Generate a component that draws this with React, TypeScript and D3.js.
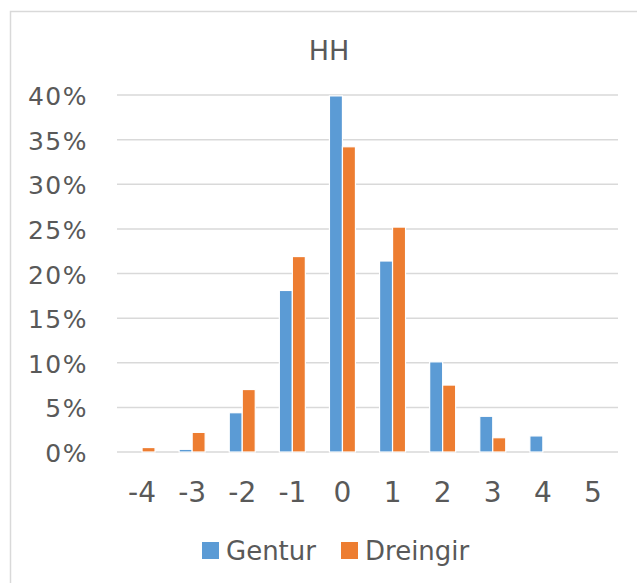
import React from "react";
import * as d3 from "d3";

const categories = ["-4", "-3", "-2", "-1", "0", "1", "2", "3", "4", "5"];
const seriesNames = ["Gentur", "Dreingir"];
const gentur = [0, 0.3, 4.4, 18.1, 39.9, 21.4, 10.1, 4.0, 1.8, 0];
const dreingir = [0.5, 2.2, 7.0, 21.9, 34.2, 25.2, 7.5, 1.6, 0, 0];
const yTicks = [0, 5, 10, 15, 20, 25, 30, 35, 40];
const colors = ["#5b9bd5", "#ed7d31"];
const title = "HH";

const W = 637;
const H = 583;
const FONT = "'DejaVu Sans', Verdana, sans-serif";
const TEXT = "#595959";
const GRID = "#d9d9d9";

export default function App() {
  const x = d3.scaleBand<string>().domain(categories).range([117, 618]).padding(0);
  const y = d3.scaleLinear().domain([0, 40]).range([452, 95]);
  const values = [gentur, dreingir];
  const half = 13;

  return (
    <svg
      width={W}
      height={H}
      style={{ position: "absolute", left: 0, top: 0, background: "#fff" }}
    >
      <rect x={0} y={0} width={W} height={H} fill="#fff" />
      <rect x={10.5} y={11.5} width={W + 50} height={H + 50} fill="none" stroke={GRID} strokeWidth={1.5} />
      <text x={329} y={60} textAnchor="middle" fontFamily={FONT} fontSize={27} fill={TEXT}>
        {title}
      </text>
      {yTicks.map((t) => (
        <g key={t}>
          <line x1={117} x2={618} y1={y(t)} y2={y(t)} stroke={GRID} strokeWidth={1.5} />
          <text
            x={88}
            y={y(t) + 10}
            textAnchor="end"
            fontFamily={FONT}
            fontSize={25}
            letterSpacing={1.5}
            fill={TEXT}
          >
            {t}%
          </text>
        </g>
      ))}
      {categories.map((c, i) => {
        const cx = (x(c) as number) + x.bandwidth() / 2;
        const sub = d3.scaleBand<string>().domain(seriesNames).range([cx - half, cx + half]).padding(0);
        return (
          <g key={c}>
            {seriesNames.map((s, si) => {
              const v = values[si][i];
              if (v <= 0) return null;
              return (
                <rect
                  key={s}
                  x={sub(s) as number}
                  y={y(v)}
                  width={sub.bandwidth()}
                  height={y(0) - y(v)}
                  fill={colors[si]}
                  stroke="#fff"
                  strokeWidth={1.2}
                />
              );
            })}
            <text x={cx} y={502} textAnchor="middle" fontFamily={FONT} fontSize={28} fill={TEXT}>
              {c}
            </text>
          </g>
        );
      })}
      {[
        { name: seriesNames[0], sx: 202, tx: 226, color: colors[0] },
        { name: seriesNames[1], sx: 341, tx: 365, color: colors[1] },
      ].map((l) => (
        <g key={l.name}>
          <rect x={l.sx} y={542} width={17} height={17} fill={l.color} />
          <text x={l.tx} y={560} fontFamily={FONT} fontSize={26} fill={TEXT}>
            {l.name}
          </text>
        </g>
      ))}
    </svg>
  );
}
